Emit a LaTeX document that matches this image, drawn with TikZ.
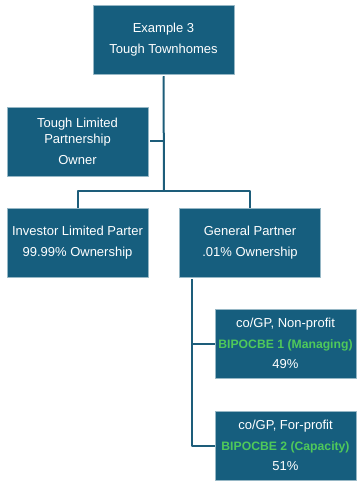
\documentclass[tikz,border=0pt]{standalone}
\usepackage{fontspec}
\setmainfont{Liberation Sans}
\usetikzlibrary{positioning}
\definecolor{boxblue}{HTML}{165E7E}
\definecolor{linkblue}{HTML}{1D5D7A}
\definecolor{bipgreen}{HTML}{4FC95A}
\newcommand{\bipname}[1]{{\color{bipgreen}\fontsize{12.2}{20.5}\selectfont\bfseries #1}}
\begin{document}
\begin{tikzpicture}[x=1pt,y=-1pt,line join=round,font=\fontsize{13}{20.5}\selectfont,
		entity/.style={fill=boxblue,draw=boxblue!45!white,line width=0.5pt,text=white,align=center,minimum width=141pt,minimum height=69pt,inner sep=0pt},
		link/.style={draw=linkblue,line width=2pt}]
			\useasboundingbox (0,0) rectangle (359,481);
			\node[entity] (deal) at (163.5,39.5) {Example 3\\Tough Townhomes};
			\node[entity] (tlp) at (77.5,141.5) {Tough Limited\\[-4.5pt]Partnership\\Owner};
			\node[entity] (ilp) at (77.5,242.5) {Investor Limited Parter\\99.99\% Ownership};
			\node[entity] (gp) at (250,242.5) {General Partner\\.01\% Ownership};
			\node[entity] (mng) at (285.5,343.5) {co/GP, Non-profit\\\bipname{BIPOCBE 1 (Managing)}\\49\%};
			\node[entity] (cap) at (285.5,445.5) {co/GP, For-profit\\\bipname{BIPOCBE 2 (Capacity)}\\51\%};
			\coordinate (split) at (164,191);
			\coordinate (gpdrop) at ([xshift=13pt]gp.south west);
			\draw[link] ([yshift=-2pt]deal.south) -- (split);
			\draw[link] ([xshift=2pt]tlp.east) -- (tlp.east -| split);
			\draw[link] (ilp.north) |- (split) -| (gp.north);
			\draw[link] ([yshift=-2pt]gpdrop) |- (cap.west);
			\draw[link] (gpdrop |- mng.west) -- (mng.west);
\end{tikzpicture}
\end{document}
